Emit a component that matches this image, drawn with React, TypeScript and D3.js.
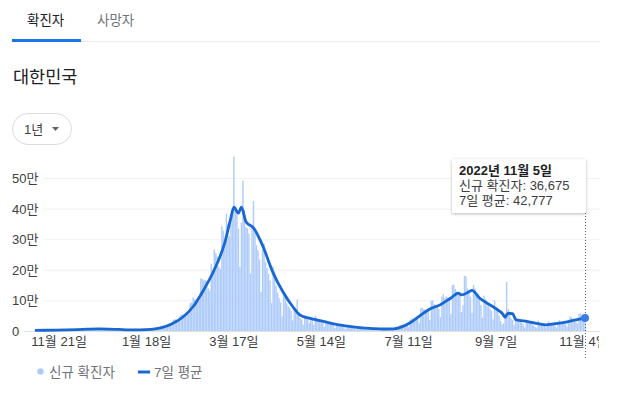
import React from "react";
import * as d3 from "d3";

// daily new cases, in thousands
const nov2021 = [2.3, 2.2, 2.2, 1.8, 2.4, 2.5, 2.4, 2.2, 2.4, 2.0, 1.9, 2.1, 3.2, 3.3, 3.0, 3.2, 2.8, 2.7, 2.7, 4.1, 3.9, 3.9, 4.1, 3.9, 3.3, 3.0];
const dec2021 = [5.1, 5.3, 4.9, 5.4, 5.1, 4.3, 5.0, 7.2, 7.1, 7.0, 7.0, 6.7, 5.8, 5.6, 7.9, 7.6, 7.4, 7.3, 6.2, 5.3, 5.2, 7.5, 6.9, 6.2, 5.8, 5.4, 4.2, 3.9, 5.4, 5.0, 4.9];
const jan2022 = [4.4, 3.8, 3.1, 3.0, 4.4, 4.1, 3.7, 3.5, 3.4, 3.0, 3.1, 4.4, 4.5, 4.2, 4.4, 4.2, 3.9, 4.1, 5.8, 6.6, 6.8, 7.0, 7.6, 7.5, 8.6, 13.0, 14.5, 16.1, 17.5, 17.5, 18.3];
const feb2022 = [20.3, 18.3, 22.9, 27.4, 36.4, 38.7, 35.3, 36.7, 49.6, 54.1, 53.9, 54.9, 56.4, 54.6, 57.2, 90.4, 93.1, 109.8, 102.2, 104.8, 95.4, 99.6, 171.5, 170.0, 165.9, 166.2, 163.6, 139.6];
const mar2022 = [131.8, 219.2, 198.8, 266.9, 254.3, 243.0, 210.7, 202.7, 342.4, 327.5, 283.0, 383.7, 350.2, 309.8, 362.3, 400.7, 570.0, 407.0, 381.5, 334.7, 209.2, 354.0, 490.9, 395.6, 339.5, 335.6, 318.1, 187.2, 347.6, 424.6, 320.7];
const apr2022 = [280.3, 264.2, 234.3, 127.2, 266.1, 286.3, 224.8, 205.3, 185.6, 164.5, 90.9, 210.8, 195.4, 148.4, 125.8, 107.9, 93.0, 47.7, 118.5, 111.3, 90.9, 81.1, 75.4, 64.7, 34.4, 76.8, 70.4, 103.0, 50.6, 42.3];
const may2022 = [37.8, 20.1, 51.1, 49.1, 42.3, 26.7, 40.1, 38.0, 20.6, 49.9, 43.9, 35.9, 32.5, 29.6, 25.4, 13.3, 35.1, 29.9, 26.0, 24.0, 21.0, 19.3, 10.0, 24.0, 22.0, 18.0, 16.6, 15.0, 12.0, 6.1, 17.0];
const jun2022 = [13.0, 12.0, 10.0, 12.0, 9.0, 5.0, 13.4, 12.0, 10.0, 9.0, 8.0, 7.0, 3.8, 9.9, 9.0, 8.0, 7.0, 6.0, 6.0, 3.5, 9.0, 8.0, 7.0, 7.0, 6.0, 6.0, 3.4, 9.6, 10.0, 9.0];
const jul2022 = [10.0, 10.0, 10.0, 6.3, 18.1, 19.4, 18.5, 19.3, 20.3, 20.4, 12.7, 37.4, 40.3, 39.2, 38.9, 41.3, 40.3, 26.3, 73.6, 76.4, 71.2, 68.6, 65.4, 65.4, 35.9, 99.3, 100.3, 88.4, 85.3, 82.0, 73.6];
const aug2022 = [44.7, 111.8, 119.9, 107.9, 112.9, 110.6, 105.5, 55.3, 149.9, 151.8, 137.2, 128.7, 124.6, 119.6, 62.1, 84.1, 180.8, 178.6, 138.8, 128.7, 110.7, 59.0, 150.5, 139.3, 113.4, 113.2, 103.9, 85.3, 43.0, 115.6, 103.9];
const sep2022 = [81.6, 80.9, 73.5, 66.5, 37.9, 99.8, 72.1, 73.0, 50.6, 33.0, 22.0, 25.0, 58.0, 160.0, 71.4, 51.9, 41.2, 36.1, 18.9, 47.9, 35.0, 31.0, 29.4, 27.0, 22.1, 12.0, 34.4, 32.8, 27.0, 25.8];
const oct2022 = [24.0, 18.5, 13.0, 11.0, 34.4, 22.0, 25.0, 23.0, 20.0, 12.0, 20.0, 31.6, 26.0, 25.0, 23.0, 19.0, 11.0, 26.0, 35.0, 30.0, 30.0, 29.0, 23.0, 15.0, 35.0, 47.4, 45.0, 38.0, 33.0, 30.0, 24.0];
const nov2022 = [54.7, 59.0, 49.0, 45.5, 36.675];

// 7-day average (thousands)
const avgDates = [
  "2021-11-05", "2021-11-12", "2021-11-19", "2021-11-26", "2021-12-03", "2021-12-10", "2021-12-17",
  "2021-12-24", "2021-12-31", "2022-01-07", "2022-01-14", "2022-01-21", "2022-01-28", "2022-02-04",
  "2022-02-11", "2022-02-18", "2022-02-25", "2022-03-04", "2022-03-11", "2022-03-15", "2022-03-17",
  "2022-03-20", "2022-03-22", "2022-03-25", "2022-03-30", "2022-04-05", "2022-04-12", "2022-04-19",
  "2022-04-25", "2022-04-30", "2022-05-06", "2022-05-13", "2022-05-20", "2022-05-27", "2022-06-03",
  "2022-06-10", "2022-06-17", "2022-06-24", "2022-07-01", "2022-07-05", "2022-07-12", "2022-07-19",
  "2022-07-25", "2022-08-01", "2022-08-08", "2022-08-13", "2022-08-15", "2022-08-20", "2022-08-22",
  "2022-08-27", "2022-09-03", "2022-09-09", "2022-09-11", "2022-09-13", "2022-09-15", "2022-09-18",
  "2022-09-20", "2022-09-28", "2022-10-05", "2022-10-10", "2022-10-16", "2022-10-25", "2022-10-30",
  "2022-11-05",
];
const avgValues = [
  2.3, 2.4, 2.8, 3.6, 4.6, 6.0, 7.0,
  6.4, 5.0, 3.9, 3.9, 5.5, 11, 24,
  45, 80, 135, 200, 290, 370, 405,
  385, 405, 357, 337, 280, 190, 124,
  80, 52, 42, 34, 26, 19, 14,
  10, 8, 6.5, 7, 11, 27, 52,
  72, 86, 108, 124, 118, 128, 133,
  108, 85, 66, 58, 45, 58, 57,
  37, 31, 24, 20, 24, 31, 36,
  42.777,
];

const yTicks = [0, 100000, 200000, 300000, 400000, 500000];
const xTickDates = ["2021-11-21", "2022-01-18", "2022-03-17", "2022-05-14", "2022-07-11", "2022-09-07", "2022-11-04"];
const tabs = ["확진자", "사망자"];
const tooltipLines = ["2022년 11월 5일", "신규 확진자: 36,675", "7일 평균: 42,777"];

const FONT = "Arial, 'Liberation Sans', 'Noto Sans CJK KR', sans-serif";
const BAR = "#aecbfa";
const LINE = "#1967d2";

const parse = d3.timeParse("%Y-%m-%d");

export default function App() {
  const width = 617;
  const height = 395;
  const start = parse("2021-11-05")!;
  const end = parse("2022-11-05")!;

  const daily = [
    ...nov2021, ...dec2021, ...jan2022, ...feb2022, ...mar2022, ...apr2022,
    ...may2022, ...jun2022, ...jul2022, ...aug2022, ...sep2022, ...oct2022, ...nov2022,
  ].map((v, i) => ({ date: d3.timeDay.offset(start, i), value: v * 1000 }));

  const avg = avgDates.map((s, i) => ({ date: parse(s)!, value: avgValues[i] * 1000 }));

  const x = d3.scaleTime().domain([start, end]).range([35, 585]);
  const y = d3.scaleLinear().domain([0, 500000]).range([331, 178]);

  const line = d3
    .line<{ date: Date; value: number }>()
    .x((d) => x(d.date))
    .y((d) => y(d.value))
    .curve(d3.curveMonotoneX);

  const fmtTick = d3.timeFormat("%-m월 %-d일");
  const last = avg[avg.length - 1];
  const barW = 1.4;

  return (
    <div style={{ position: "absolute", left: 0, top: 0 }}>
      <svg width={width} height={height} style={{ display: "block", fontFamily: FONT }}>
        <defs>
          <clipPath id="axisClip">
            <rect x={0} y={0} width={599} height={height} />
          </clipPath>
          <filter id="shadow" x="-10%" y="-20%" width="120%" height="150%">
            <feDropShadow dx={0} dy={1} stdDeviation={1.5} floodColor="#000" floodOpacity={0.28} />
          </filter>
        </defs>
        <rect width={width} height={height} fill="#fff" />

        {/* tabs */}
        {tabs.map((t, i) => (
          <text key={t} x={i === 0 ? 27 : 97} y={25} fontSize={13.5} fill={i === 0 ? "#202124" : "#70757a"}>
            {t}
          </text>
        ))}
        <line x1={12} x2={600} y1={41.5} y2={41.5} stroke="#ebebeb" />
        <rect x={12} y={39} width={69} height={3} fill="#1a73e8" />

        {/* title */}
        <text x={13} y={83} fontSize={17.5} fill="#202124">대한민국</text>

        {/* range dropdown */}
        <rect x={12.5} y={113.5} width={59} height={31} rx={15.5} fill="#fff" stroke="#dadce0" />
        <text x={24} y={134} fontSize={13} fill="#3c4043">1년</text>
        <path d="M52,127 L59,127 L55.5,131 Z" fill="#5f6368" />

        {/* grid + y labels */}
        {yTicks.map((t) => (
          <g key={t}>
            <line x1={t === 0 ? 24 : 43} x2={600} y1={y(t) + 0.5} y2={y(t) + 0.5} stroke={t === 0 ? "#e0e0e0" : "#f1f1f1"} />
            <text x={12} y={y(t) + 5} fontSize={13} fill="#3c4043">
              {t === 0 ? "0" : `${t / 10000}만`}
            </text>
          </g>
        ))}

        {/* daily bars */}
        {daily.map((d) => (
          <rect
            key={+d.date}
            x={x(d.date) - barW / 2}
            y={y(d.value)}
            width={barW}
            height={y(0) - y(d.value)}
            fill={BAR}
          />
        ))}

        {/* 7-day average */}
        <path d={line(avg) || ""} fill="none" stroke={LINE} strokeWidth={2.8} strokeLinejoin="round" />

        {/* x labels */}
        <g clipPath="url(#axisClip)">
          {xTickDates.map((s) => {
            const dt = parse(s)!;
            return (
              <text key={s} x={x(dt)} y={346} fontSize={13} fill="#3c4043" textAnchor="middle">
                {fmtTick(dt)}
              </text>
            );
          })}
        </g>

        {/* hover marker */}
        <line x1={x(end) + 0.5} x2={x(end) + 0.5} y1={213} y2={358} stroke="#5f6368" strokeDasharray="1,2" />
        <circle cx={x(last.date)} cy={y(last.value)} r={4} fill="#3b7be9" />

        {/* tooltip */}
        <rect x={452} y={159} width={134} height={54} fill="#fff" filter="url(#shadow)" />
        {tooltipLines.map((t, i) => (
          <text
            key={t}
            x={459}
            y={175 + i * 15}
            fontSize={13}
            fontWeight={i === 0 ? "bold" : "normal"}
            fill={i === 0 ? "#202124" : "#3c4043"}
          >
            {t}
          </text>
        ))}

        {/* legend */}
        <circle cx={40.5} cy={371.5} r={3.2} fill={BAR} />
        <text x={49} y={376.5} fontSize={13.5} fill="#70757a">신규 확진자</text>
        <line x1={138} x2={150} y1={372} y2={372} stroke={LINE} strokeWidth={3} />
        <text x={154} y={376.5} fontSize={13.5} fill="#70757a">7일 평균</text>
      </svg>
    </div>
  );
}
